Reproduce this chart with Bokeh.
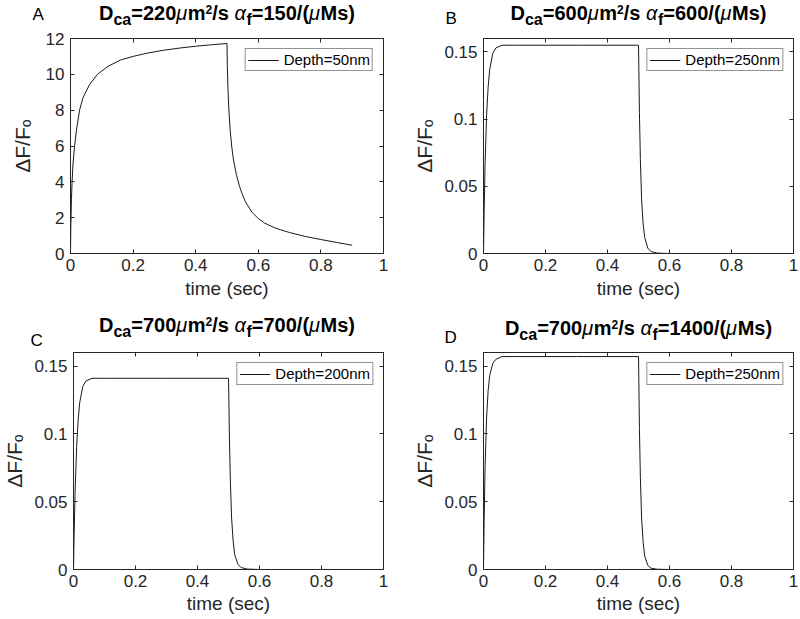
from bokeh.plotting import figure
from bokeh.models import (Range1d, FixedTicker, CustomJSTickFormatter, LinearAxis,
                          Label, Legend, LegendItem)
from bokeh.layouts import column, row
from bokeh.embed import file_html
from bokeh.resources import INLINE

# ---------------- data ----------------
time_A = [0, 0.001, 0.003, 0.005, 0.008, 0.013, 0.02, 0.029, 0.04, 0.06, 0.086, 0.12,
          0.16, 0.2, 0.25, 0.3, 0.35, 0.4, 0.45, 0.5,
          0.501, 0.503, 0.506, 0.51, 0.515, 0.52, 0.53, 0.54, 0.55, 0.56, 0.58, 0.6,
          0.62, 0.65, 0.67, 0.7, 0.75, 0.8, 0.85, 0.9]
dff_A = [0, 1.5, 3.0, 4.0, 5.0, 6.0, 7.0, 8.0, 8.7, 9.4, 10.0, 10.45,
         10.8, 11.0, 11.2, 11.35, 11.47, 11.57, 11.65, 11.72,
         10.5, 9.2, 8.0, 6.9, 6.0, 5.3, 4.4, 3.75, 3.25, 2.85, 2.3, 1.95,
         1.7, 1.45, 1.33, 1.17, 0.95, 0.78, 0.62, 0.46]

time_BCD = [0, 0.002, 0.005, 0.01, 0.015, 0.02, 0.03, 0.04, 0.06, 0.1, 0.3, 0.5,
            0.501, 0.503, 0.506, 0.51, 0.515, 0.52, 0.53, 0.54, 0.56, 0.6, 0.7, 0.9]
dff_B = [0, 0.030, 0.066, 0.103, 0.124, 0.137, 0.149, 0.153, 0.155, 0.155, 0.155, 0.155,
         0.140, 0.105, 0.070, 0.040, 0.022, 0.012, 0.004, 0.0015, 0.0003, 0, 0, 0]
dff_C = [0, 0.025, 0.056, 0.090, 0.110, 0.123, 0.135, 0.139, 0.141, 0.141, 0.141, 0.141,
         0.128, 0.097, 0.065, 0.038, 0.021, 0.011, 0.004, 0.0015, 0.0003, 0, 0, 0]
dff_D = [0, 0.035, 0.075, 0.112, 0.132, 0.143, 0.152, 0.155, 0.157, 0.157, 0.157, 0.157,
         0.141, 0.104, 0.068, 0.038, 0.020, 0.010, 0.003, 0.001, 0.0002, 0, 0, 0]

x_ticks = [0, 0.2, 0.4, 0.6, 0.8, 1]
y_ticks_A = [0, 2, 4, 6, 8, 10, 12]
y_ticks_BCD = [0, 0.05, 0.1, 0.15]
y_max_A = 12
y_max_BCD = 0.16

legend_labels = ["Depth=50nm", "Depth=250nm", "Depth=200nm", "Depth=250nm"]
D_ca = ["220", "600", "700", "700"]
alpha_f = ["150", "600", "700", "1400"]
letters = ["A", "B", "C", "D"]
x_label = "time (sec)"
y_label = "ΔF/Fₒ"

# ---------------- styling ----------------
FONT = "Liberation Sans"
AX = "#262626"
TITLE_SIZE = 20
SUB_SIZE = 16
SUP_SIZE = 12
MID = 0.3465  # distance baseline -> middle of text box, in em

W_BOLD = {'D': 722, 'M': 833, 'm': 889, 's': 556, 'c': 556, 'a': 556, 'f': 333,
          '=': 584, '/': 278, '(': 333, ')': 333, ' ': 278}
W_GREEK = {'μ': 576, 'α': 600}


def seg_width(text, kind, size):
    tot = 0
    for ch in text:
        if ch.isdigit():
            tot += 556
        elif kind == "g":
            tot += W_GREEK.get(ch, 580)
        else:
            tot += W_BOLD.get(ch, 600)
    return tot * size / 1000.0


def title_strip(w, h, page_left, page_top, dca, af, letter, center_px, base_py,
                letter_px, letter_py, sub_dy=6):
    f = figure(width=w, height=h, x_range=Range1d(0, w), y_range=Range1d(0, h),
               min_border=0, x_axis_type=None, y_axis_type=None,
               output_backend="svg", toolbar_location=None)
    f.outline_line_color = None
    f.grid.visible = False
    lx = lambda px: px - page_left
    ly = lambda py: page_top + h - py
    sizes = {"b": TITLE_SIZE, "g": TITLE_SIZE, "sub": SUB_SIZE, "sup": SUP_SIZE}
    dys = {"b": 0, "g": 0, "sub": -sub_dy, "sup": 6}
    segs = [("D", "b"), ("ca", "sub"), ("=" + dca, "b"), ("μ", "g"), ("m", "b"),
            ("2", "sup"), ("/s", "b"), (" ", "b"), ("α", "g"), ("f", "sub"),
            ("=" + af + "/(", "b"), ("μ", "g"), ("Ms)", "b")]
    widths = [seg_width(t, k, sizes[k]) for t, k in segs]
    x = lx(center_px) - sum(widths) / 2.0
    for (t, k), wd in zip(segs, widths):
        if t.strip():
            f.add_layout(Label(x=x, y=ly(base_py) + dys[k] + MID * sizes[k],
                               x_units="screen", y_units="screen", text=t,
                               text_font=FONT, text_font_size=f"{sizes[k]}px",
                               text_font_style=("italic" if k == "g" else "bold"),
                               text_color="black", text_align="left",
                               text_baseline="middle"))
        x += wd
    f.add_layout(Label(x=lx(letter_px), y=ly(letter_py) + MID * 17, x_units="screen",
                       y_units="screen", text=letter, text_font=FONT,
                       text_font_size="17px", text_color="black", text_align="left",
                       text_baseline="middle"))
    return f


def panel(t, v, ymax, yticks, leg, w, h, bl, br, bt, bb, xlab_standoff, ylab_standoff):
    p = figure(width=w, height=h, min_border_left=bl, min_border_right=br,
               min_border_top=bt, min_border_bottom=bb,
               x_range=Range1d(0, 1), y_range=Range1d(0, ymax),
               output_backend="svg", toolbar_location=None)
    p.grid.visible = False
    p.outline_line_color = AX
    p.outline_line_width = 1
    fmt = CustomJSTickFormatter(code="return String(Math.round(tick*1000)/1000);")
    p.xaxis.ticker = FixedTicker(ticks=x_ticks)
    p.yaxis.ticker = FixedTicker(ticks=yticks)
    for ax in (p.xaxis[0], p.yaxis[0]):
        ax.formatter = fmt
        ax.axis_line_color = AX
        ax.major_tick_in = 4
        ax.major_tick_out = 0
        ax.major_tick_line_color = AX
        ax.minor_tick_line_color = None
        ax.major_label_text_font = FONT
        ax.major_label_text_font_size = "17px"
        ax.major_label_text_color = AX
        ax.axis_label_text_font = FONT
        ax.axis_label_text_font_style = "normal"
        ax.axis_label_text_color = AX
    p.xaxis.major_label_standoff = 5
    p.yaxis.major_label_standoff = 6
    p.xaxis.axis_label = x_label
    p.xaxis.axis_label_text_font_size = "19px"
    p.xaxis.axis_label_standoff = xlab_standoff
    p.yaxis.axis_label = y_label
    p.yaxis.axis_label_text_font_size = "21px"
    p.yaxis.axis_label_standoff = ylab_standoff
    for side, ticks in (("above", x_ticks), ("right", yticks)):
        ax = LinearAxis(ticker=FixedTicker(ticks=ticks), major_tick_in=4, major_tick_out=0,
                        major_tick_line_color=AX, minor_tick_line_color=None,
                        axis_line_color=AX, major_label_text_font_size="1px",
                        major_label_text_color=None, major_label_standoff=0)
        p.add_layout(ax, side)
    r = p.line(t, v, line_color="#1a1a1a", line_width=1)
    lg = Legend(items=[LegendItem(label=leg, renderers=[r])], location="top_right",
                margin=10, padding=2, spacing=0, glyph_width=31, glyph_height=16,
                label_height=16, label_standoff=5, border_line_color=AX,
                border_line_width=0.8, background_fill_alpha=1,
                label_text_font=FONT, label_text_font_size="15px",
                label_text_color="black")
    p.add_layout(lg)
    return p


# ---- row 1 (page y 0..310) ----
tA = title_strip(400, 28, 0, 0, D_ca[0], alpha_f[0], letters[0], 226.5, 19.5, 32, 20,
                 sub_dy=5)
tB = title_strip(400, 28, 400, 0, D_ca[1], alpha_f[1], letters[1], 638, 19.5, 445, 24,
                 sub_dy=5)
pA = panel(time_A, dff_A, y_max_A, y_ticks_A, legend_labels[0],
           400, 282, 70, 17, 10, 56, 4, 9)
pB = panel(time_BCD, dff_B, y_max_BCD, y_ticks_BCD, legend_labels[1],
           400, 282, 83, 7, 8, 57, 4, 5)

# ---- row 2 (page y 310..619) ----
tC = title_strip(400, 40, 0, 310, D_ca[2], alpha_f[2], letters[2], 226.5, 331, 30, 346)
tD = title_strip(400, 40, 400, 310, D_ca[3], alpha_f[3], letters[3], 638, 334, 444, 343)
pC = panel(time_BCD, dff_C, y_max_BCD, y_ticks_BCD, legend_labels[2],
           400, 269, 70, 17, 2, 50, 3, 5)
pD = panel(time_BCD, dff_D, y_max_BCD, y_ticks_BCD, legend_labels[3],
           400, 269, 83, 7, 2, 50, 3, 5)

layout = column(row(tA, tB, spacing=0), row(pA, pB, spacing=0),
                row(tC, tD, spacing=0), row(pC, pD, spacing=0), spacing=0)
open("out.html", "w").write(file_html(layout, INLINE))
